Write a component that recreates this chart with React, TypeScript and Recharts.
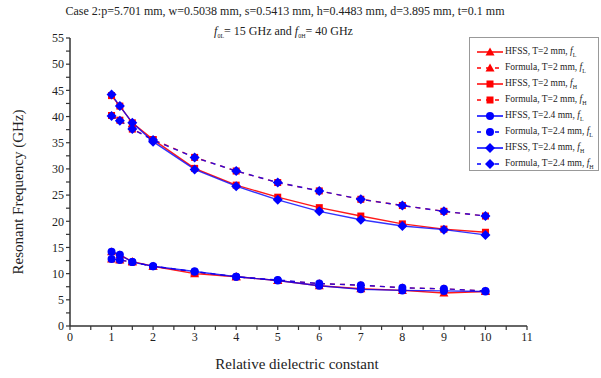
import React from 'react';
import { LineChart, Line, XAxis, YAxis } from 'recharts';

const eps = [1, 1.2, 1.5, 2, 3, 4, 5, 6, 7, 8, 9, 10];
const hfssT2fL = [14.2, 13.6, 12.3, 11.4, 10.0, 9.4, 8.7, 7.7, 7.1, 6.8, 6.3, 6.6];
const formulaT2fL = [12.8, 12.6, 12.2, 11.4, 10.3, 9.4, 8.7, 8.1, 7.8, 7.3, 7.1, 6.7];
const hfssT2fH = [44.0, 42.0, 38.8, 35.6, 30.1, 26.9, 24.6, 22.6, 21.0, 19.5, 18.5, 17.9];
const formulaT2fH = [40.2, 39.3, 37.6, 35.6, 32.2, 29.6, 27.4, 25.8, 24.2, 23.0, 21.9, 21.0];
const hfssT24fL = [14.2, 13.6, 12.2, 11.4, 10.4, 9.4, 8.7, 7.7, 7.0, 6.8, 6.7, 6.6];
const formulaT24fL = [12.8, 12.6, 12.2, 11.4, 10.4, 9.4, 8.8, 8.1, 7.8, 7.3, 7.1, 6.7];
const hfssT24fH = [44.2, 42.0, 38.8, 35.2, 29.9, 26.7, 24.1, 21.9, 20.3, 19.1, 18.4, 17.4];
const formulaT24fH = [40.1, 39.2, 37.6, 35.5, 32.2, 29.6, 27.4, 25.8, 24.2, 23.0, 21.9, 21.0];

const xTicks = Array.from({ length: 23 }, (_, i) => i * 0.5);
const yTicks = Array.from({ length: 23 }, (_, i) => i * 2.5);

const RED = '#ff0000';
const BLUE = '#0000ff';
const FONT = '"Liberation Serif", "Times New Roman", serif';

type Shape = 'triangle' | 'square' | 'circle' | 'diamond';

const series = [
  { key: 's1', values: hfssT2fL, color: RED, dashed: false, shape: 'triangle' as Shape, label: 'HFSS, T=2 mm, ', sub: 'L' },
  { key: 's2', values: formulaT2fL, color: RED, dashed: true, shape: 'triangle' as Shape, label: 'Formula, T=2 mm, ', sub: 'L' },
  { key: 's3', values: hfssT2fH, color: RED, dashed: false, shape: 'square' as Shape, label: 'HFSS, T=2 mm, ', sub: 'H' },
  { key: 's4', values: formulaT2fH, color: RED, dashed: true, shape: 'square' as Shape, label: 'Formula, T=2 mm, ', sub: 'H' },
  { key: 's5', values: hfssT24fL, color: BLUE, dashed: false, shape: 'circle' as Shape, label: 'HFSS, T=2.4 mm, ', sub: 'L' },
  { key: 's6', values: formulaT24fL, color: BLUE, dashed: true, shape: 'circle' as Shape, label: 'Formula, T=2.4 mm, ', sub: 'L' },
  { key: 's7', values: hfssT24fH, color: BLUE, dashed: false, shape: 'diamond' as Shape, label: 'HFSS, T=2.4 mm, ', sub: 'H' },
  { key: 's8', values: formulaT24fH, color: BLUE, dashed: true, shape: 'diamond' as Shape, label: 'Formula, T=2.4 mm, ', sub: 'H' },
];

const data = eps.map((e, i) => {
  const row: Record<string, number> = { eps: e };
  series.forEach((s) => { row[s.key] = s.values[i]; });
  return row;
});

function Marker({ shape, cx, cy, color }: { shape: Shape; cx: number; cy: number; color: string }) {
  if (shape === 'triangle') {
    return <polygon points={`${cx},${cy - 4.5} ${cx + 4.5},${cy + 3.5} ${cx - 4.5},${cy + 3.5}`} fill={color} />;
  }
  if (shape === 'square') {
    return <rect x={cx - 3.5} y={cy - 3.5} width={7} height={7} fill={color} />;
  }
  if (shape === 'circle') {
    return <circle cx={cx} cy={cy} r={4} fill={color} />;
  }
  return <polygon points={`${cx},${cy - 5} ${cx + 5},${cy} ${cx},${cy + 5} ${cx - 5},${cy}`} fill={color} />;
}

const makeDot = (shape: Shape, color: string, key: string) => (props: any) => {
  const { cx, cy, index } = props;
  if (cx == null || cy == null) return <g key={`${key}-${index}`} />;
  return (
    <g key={`${key}-${index}`}>
      <Marker shape={shape} cx={cx} cy={cy} color={color} />
    </g>
  );
};

const Legend = () => (
  <div
    style={{
      position: 'absolute',
      left: 469,
      top: 37,
      width: 130,
      height: 134,
      border: '1px solid #999',
      background: '#fff',
      fontFamily: FONT,
      fontSize: 9.5,
      color: '#222',
      boxSizing: 'border-box',
    }}
  >
    {series.map((s, i) => (
      <div key={s.key} style={{ position: 'absolute', left: 6, top: 7 + i * 16, height: 14, display: 'flex', alignItems: 'center', whiteSpace: 'nowrap' }}>
        <svg width={28} height={14} style={{ display: 'block' }}>
          <line x1={1} y1={7} x2={27} y2={7} stroke={s.color} strokeWidth={1.5} strokeDasharray={s.dashed ? '4 5' : undefined} />
          <Marker shape={s.shape} cx={14} cy={7} color={s.color} />
        </svg>
        <span style={{ marginLeft: 1 }}>
          {s.label}
          <i>f</i>
          <sub style={{ fontSize: 6 }}>{s.sub}</sub>
        </span>
      </div>
    ))}
  </div>
);

export default function App() {
  return (
    <div style={{ position: 'absolute', left: 0, top: 0, width: 601, height: 378, background: '#fff', fontFamily: FONT }}>
      <LineChart width={601} height={378} data={data} margin={{ top: 38, right: 74, bottom: 22, left: 0 }}>
        <XAxis
          dataKey="eps"
          type="number"
          domain={[0, 11]}
          ticks={xTicks}
          interval={0}
          height={30}
          tickSize={4}
          tickFormatter={(v: number) => (Number.isInteger(v) ? String(v) : '')}
          tick={{ fill: '#222', fontSize: 12, fontFamily: FONT }}
          axisLine={{ stroke: '#333', strokeWidth: 1.5 }}
          tickLine={{ stroke: '#333', strokeWidth: 1.2 }}
        />
        <YAxis
          type="number"
          domain={[0, 55]}
          ticks={yTicks}
          interval={0}
          width={70}
          tickSize={4}
          tickFormatter={(v: number) => (v % 5 === 0 ? String(v) : '')}
          tick={{ fill: '#222', fontSize: 12, fontFamily: FONT }}
          axisLine={{ stroke: '#333', strokeWidth: 1.5 }}
          tickLine={{ stroke: '#333', strokeWidth: 1.2 }}
        />
        {series.map((s) => (
          <Line
            key={s.key}
            dataKey={s.key}
            type="linear"
            stroke={s.color}
            strokeWidth={1.4}
            strokeOpacity={s.color === BLUE ? 0.8 : 0.9}
            strokeDasharray={s.dashed ? '5 5' : undefined}
            dot={makeDot(s.shape, s.color, s.key)}
            activeDot={false}
            isAnimationActive={false}
          />
        ))}
      </LineChart>
      <div style={{ position: 'absolute', left: 0, width: 570, top: 4, textAlign: 'center', fontSize: 12, color: '#222', whiteSpace: 'nowrap' }}>
        Case 2:p=5.701 mm, w=0.5038 mm, s=0.5413 mm, h=0.4483 mm, d=3.895 mm, t=0.1 mm
      </div>
      <div style={{ position: 'absolute', left: 0, width: 567, top: 24, textAlign: 'center', fontSize: 12, color: '#222', whiteSpace: 'nowrap' }}>
        <i>f</i><sub style={{ fontSize: 6 }}>0L</sub>= 15 GHz and <i>f</i><sub style={{ fontSize: 6 }}>0H</sub>= 40 GHz
      </div>
      <div style={{ position: 'absolute', left: 0, width: 594, top: 356, textAlign: 'center', fontSize: 15, color: '#222', whiteSpace: 'nowrap' }}>
        Relative dielectric constant
      </div>
      <div
        style={{
          position: 'absolute',
          left: 18,
          top: 192,
          transform: 'translate(-50%, -50%) rotate(-90deg)',
          fontSize: 15,
          color: '#222',
          whiteSpace: 'nowrap',
        }}
      >
        Resonant Frequency (GHz)
      </div>
      <Legend />
    </div>
  );
}
